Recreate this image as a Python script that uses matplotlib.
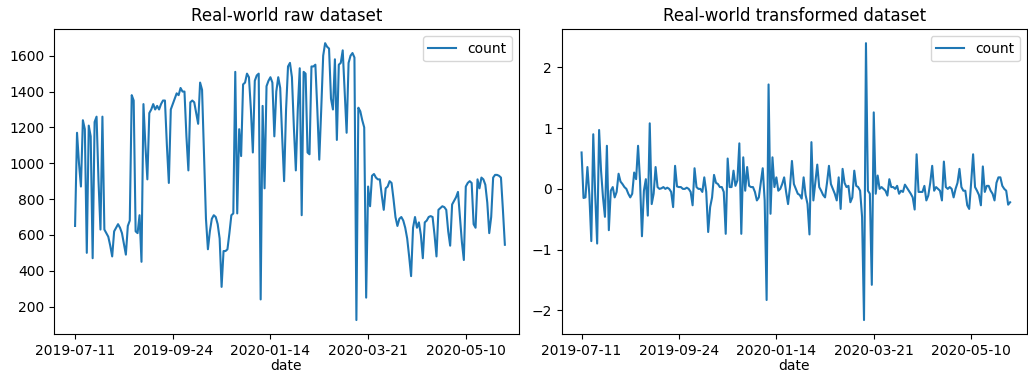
import numpy as np
import matplotlib.pyplot as plt

# daily counts, one value per row of the dataset
raw_count = [
    650, 1170, 1000, 870, 1240, 1190, 500, 1210, 1150, 470,
    1230, 1260, 900, 630, 1260, 630, 610, 590, 540, 480,
    620, 640, 660, 640, 610, 550, 490, 650, 680, 1380,
    1350, 620, 610, 710, 450, 1330, 1100, 910, 1280, 1300,
    1330, 1300, 1320, 1300, 1330, 1350, 1350, 1100, 890, 1300,
    1330, 1360, 1390, 1380, 1420, 1400, 1400, 1150, 960, 1340,
    1350, 1340, 1280, 1220, 1450, 1410, 1050, 690, 520, 620,
    690, 710, 700, 660, 580, 310, 510, 510, 520, 610,
    710, 720, 1510, 720, 1190, 1040, 1440, 1450, 1500, 1480,
    1300, 1060, 1460, 1490, 1500, 240, 1320, 860, 1430, 1460,
    1480, 1450, 1150, 1400, 1480, 1420, 1150, 900, 1300, 1540,
    1560, 1480, 1200, 960, 1300, 1530, 710, 1510, 1500, 1060,
    1050, 1540, 1540, 1550, 1300, 1020, 1300, 1600, 1670, 1650,
    1640, 1360, 1300, 1580, 1130, 1550, 1560, 1630, 1400, 1170,
    1560, 1600, 1615, 1590, 125, 1310, 1290, 1240, 1200, 250,
    870, 760, 930, 940, 920, 910, 910, 820, 740, 860,
    870, 900, 890, 800, 700, 650, 690, 700, 680, 640,
    580, 480, 370, 640, 700, 640, 670, 600, 470, 670,
    680, 700, 705, 700, 600, 480, 740, 750, 760, 755,
    740, 620, 540, 770, 790, 810, 840, 700, 560, 460,
    870, 890, 900, 890, 660, 640, 910, 860, 920, 910,
    880, 780, 610, 700, 920, 935, 935, 930, 920, 740,
    545,
]

transformed_count = [
    0.60, -0.15, -0.14, 0.36, -0.10, -0.86, 0.90, -0.10, -0.90, 0.97,
    0.30, -0.14, -0.46, 0.71, -0.68, -0.03, 0.03, -0.14, -0.05, 0.25,
    0.12, 0.08, 0.03, 0.00, -0.08, -0.14, -0.08, 0.27, 0.16, 0.71,
    0.14, -0.78, -0.03, 0.16, -0.44, 1.08, -0.25, -0.08, 0.36, 0.03,
    0.00, 0.01, 0.03, 0.00, 0.02, 0.00, -0.05, -0.30, 0.38, 0.04,
    0.03, 0.03, 0.00, 0.00, 0.02, 0.00, -0.05, -0.27, 0.34, 0.03,
    0.00, 0.00, -0.05, 0.19, -0.05, -0.71, -0.30, -0.14, 0.23, 0.10,
    0.08, 0.03, 0.03, -0.05, -0.74, 0.50, 0.03, 0.03, 0.30, 0.05,
    0.14, 0.75, -0.74, 0.52, -0.03, 0.36, 0.05, 0.03, 0.03, -0.05,
    -0.19, -0.14, 0.10, 0.34, -0.19, -1.83, 1.72, -0.41, 0.52, 0.03,
    0.19, -0.03, 0.00, 0.08, 0.19, -0.05, -0.25, 0.03, 0.46, 0.08,
    0.00, -0.08, -0.10, -0.16, 0.19, -0.10, -0.25, -0.75, 0.77, -0.19,
    0.10, 0.40, 0.03, -0.03, -0.10, -0.14, 0.10, 0.38, 0.08, 0.00,
    -0.08, -0.19, 0.19, -0.33, 0.33, 0.10, 0.03, 0.05, -0.22, -0.14,
    0.30, 0.05, 0.03, -0.03, -0.46, -2.16, 2.40, -0.03, -0.08, -1.58,
    1.26, -0.08, 0.22, 0.00, 0.03, 0.00, -0.03, -0.11, 0.16, 0.03,
    0.03, 0.00, 0.05, -0.08, -0.03, -0.05, 0.07, 0.02, -0.03, -0.08,
    -0.14, -0.34, 0.57, -0.05, -0.05, -0.05, 0.05, -0.19, -0.11, 0.10,
    0.38, -0.03, 0.03, 0.00, -0.03, -0.19, 0.45, 0.03, 0.00, 0.03,
    0.00, -0.14, 0.00, 0.10, 0.33, 0.03, -0.03, -0.03, -0.27, -0.33,
    0.10, 0.57, 0.03, -0.03, -0.10, -0.27, 0.37, -0.05, 0.05, 0.05,
    -0.03, -0.08, -0.19, 0.10, 0.19, 0.19, 0.05, 0.00, -0.03, -0.26,
    -0.22,
]

tick_pos = [0, 50, 100, 150, 200]
tick_labels = ['2019-07-11', '2019-09-24', '2020-01-14', '2020-03-21', '2020-05-10']

fig = plt.figure(figsize=(10.28, 3.76), dpi=100)
ax1 = fig.add_axes([0.0525, 0.112, 0.4523, 0.81])
ax2 = fig.add_axes([0.5464, 0.112, 0.4523, 0.81])

panels = [
    (ax1, raw_count, 'Real-world raw dataset', (-10.8, 227.2)),
    (ax2, transformed_count, 'Real-world transformed dataset', (-10.2, 228.5)),
]
for ax, values, title, xlim in panels:
    ax.plot(np.arange(len(values)), values, color='C0', label='count')
    ax.set_title(title)
    ax.set_xticks(tick_pos)
    ax.set_xticklabels(tick_labels)
    ax.set_xlim(*xlim)
    ax.set_xlabel('date', labelpad=1)
    ax.legend(loc='upper right')

fig.savefig('out.png', dpi=100)
